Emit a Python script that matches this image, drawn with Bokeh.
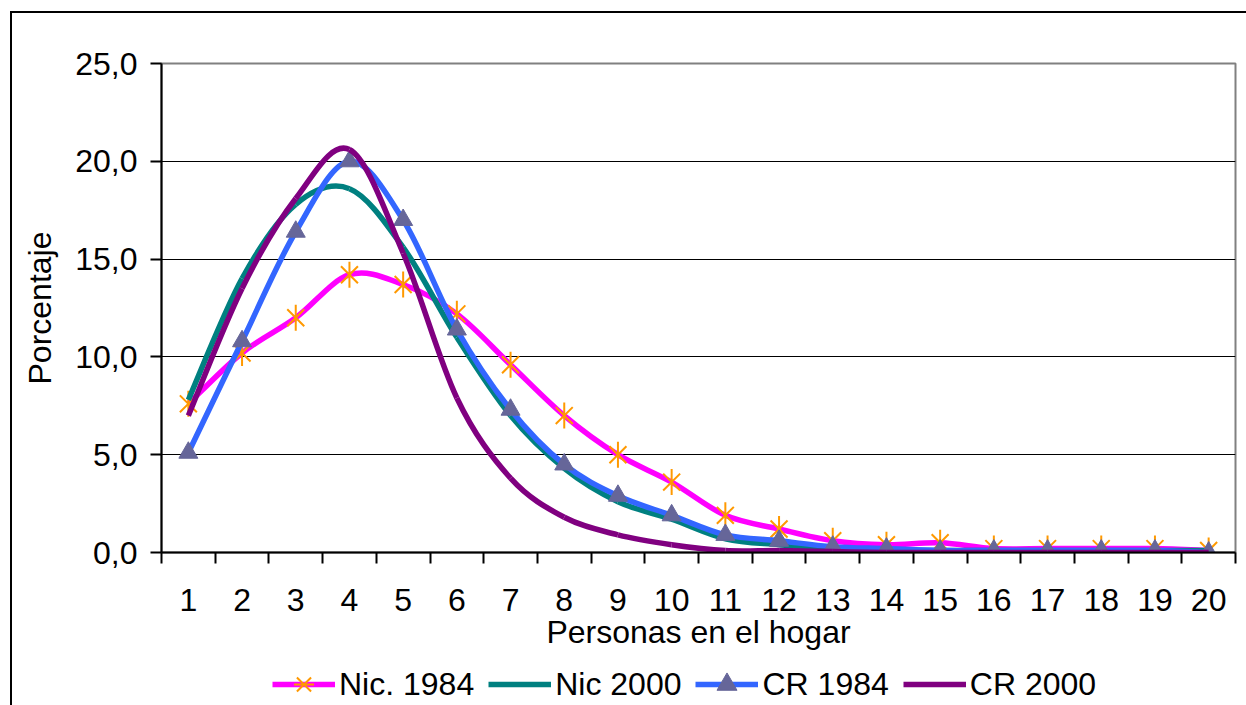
from bokeh.plotting import figure
from bokeh.layouts import column
from bokeh.models import Range1d, FixedTicker, Legend, LegendItem
from bokeh.embed import file_html
from bokeh.resources import INLINE

# ---------------- data ----------------
hogar = list(range(1, 21))
x_labels = [str(i) for i in hogar]
y_ticks = [0, 5, 10, 15, 20, 25]
y_labels = ["0,0", "5,0", "10,0", "15,0", "20,0", "25,0"]

nic_1984 = [7.6, 10.2, 12.0, 14.2, 13.7, 12.2, 9.6, 7.0, 5.0, 3.6,
            1.9, 1.2, 0.6, 0.4, 0.5, 0.2, 0.2, 0.2, 0.2, 0.1]
nic_2000 = [7.8, 14.0, 17.8, 18.6, 15.6, 11.0, 7.0, 4.3, 2.6, 1.7,
            0.7, 0.4, 0.2, 0.1, 0.1, 0.1, 0.1, 0.1, 0.1, 0.1]
cr_1984 = [5.1, 10.8, 16.4, 20.0, 17.0, 11.4, 7.3, 4.5, 2.9, 1.9,
           0.9, 0.6, 0.3, 0.2, 0.1, 0.1, 0.1, 0.1, 0.1, 0.0]
cr_2000 = [7.0, 13.5, 18.1, 20.6, 15.3, 7.9, 3.8, 1.8, 0.9, 0.4,
           0.1, 0.1, 0.05, 0.0, 0.0, 0.0, 0.0, 0.0, 0.0, 0.0]

series_names = ["Nic. 1984", "Nic 2000", "CR 1984", "CR 2000"]
series_values = [nic_1984, nic_2000, cr_1984, cr_2000]

FONT = "Liberation Sans"
line_colors = ["#FF00FF", "#008080", "#3366FF", "#800080"]
STAR_COLOR = "#FF9900"
TRI_COLOR = "#666699"
LW = 5.5


def smooth_segments(xs, ys):
    """Bezier control points (Catmull-Rom style) for a smoothed line."""
    n = len(xs)
    d = dict(x0=[], y0=[], x1=[], y1=[], cx0=[], cy0=[], cx1=[], cy1=[])
    for i in range(n - 1):
        xp, yp = (xs[i - 1], ys[i - 1]) if i > 0 else (xs[i], ys[i])
        xn, yn = (xs[i + 2], ys[i + 2]) if i + 2 < n else (xs[i + 1], ys[i + 1])
        d["x0"].append(xs[i]); d["y0"].append(ys[i])
        d["x1"].append(xs[i + 1]); d["y1"].append(ys[i + 1])
        d["cx0"].append(xs[i] + (xs[i + 1] - xp) / 6.0)
        d["cy0"].append(ys[i] + (ys[i + 1] - yp) / 6.0)
        d["cx1"].append(xs[i + 1] - (xn - xs[i]) / 6.0)
        d["cy1"].append(ys[i + 1] - (yn - ys[i]) / 6.0)
    return d


def add_markers(fig, name, xs, ys):
    out = []
    if name == "Nic. 1984":
        out.append(fig.scatter(xs, ys, marker="x", size=24, line_color=STAR_COLOR, line_width=2))
        out.append(fig.scatter(xs, ys, marker="dash", angle=1.5708, size=26,
                               line_color=STAR_COLOR, line_width=2))
    elif name == "CR 1984":
        out.append(fig.scatter(xs, ys, marker="triangle", size=19, fill_color=TRI_COLOR,
                               line_color=TRI_COLOR, line_width=1))
    return out


# ---------------- main chart ----------------
p = figure(width=1234, height=642,
           x_range=Range1d(0.5, 20.5), y_range=Range1d(0, 25),
           output_backend="svg", toolbar_location=None,
           min_border_left=149, min_border_right=11,
           min_border_top=50, min_border_bottom=103)

p.outline_line_color = "#808080"
p.outline_line_width = 2
p.background_fill_color = "white"
p.border_fill_color = "white"

# x axis (labels at centres, tick marks between categories)
p.xaxis.ticker = FixedTicker(ticks=hogar, minor_ticks=[i + 0.5 for i in range(0, 21)])
p.xaxis.major_label_overrides = {h: lab for h, lab in zip(hogar, x_labels)}
p.xaxis.major_tick_out = 0
p.xaxis.major_tick_in = 0
p.xaxis.minor_tick_out = 11
p.xaxis.minor_tick_in = 0
p.xaxis.minor_tick_line_color = "black"
p.xaxis.minor_tick_line_width = 2
p.xaxis.major_label_standoff = 25
p.xaxis.axis_label = "Personas en el hogar"
p.xaxis.axis_label_standoff = 0

# y axis
p.yaxis.ticker = FixedTicker(ticks=y_ticks, minor_ticks=[])
p.yaxis.major_label_overrides = {t: lab for t, lab in zip(y_ticks, y_labels)}
p.yaxis.major_tick_out = 11
p.yaxis.major_tick_in = 0
p.yaxis.major_label_standoff = 13
p.yaxis.axis_label = "Porcentaje"
p.yaxis.axis_label_standoff = 14

for ax in (p.xaxis[0], p.yaxis[0]):
    ax.axis_line_color = "black"
    ax.axis_line_width = 2
    ax.major_tick_line_color = "black"
    ax.major_tick_line_width = 2
    ax.major_label_text_font = FONT
    ax.major_label_text_font_size = "32px"
    ax.major_label_text_color = "black"
    ax.axis_label_text_font = FONT
    ax.axis_label_text_font_size = "32px"
    ax.axis_label_text_font_style = "normal"
    ax.axis_label_text_color = "black"

p.xgrid.visible = False
p.ygrid.ticker = FixedTicker(ticks=[5, 10, 15, 20])
p.ygrid.grid_line_color = "black"
p.ygrid.grid_line_width = 1

for name, vals, col in zip(series_names, series_values, line_colors):
    seg = smooth_segments(hogar, vals)
    p.bezier(x0="x0", y0="y0", x1="x1", y1="y1", cx0="cx0", cy0="cy0",
             cx1="cx1", cy1="cy1", source=seg, line_color=col, line_width=LW)
    add_markers(p, name, hogar, vals)

# ---------------- legend strip ----------------
# same series, but the y range lies above all values so only the legend shows
lg = figure(width=1234, height=50, x_range=Range1d(0.5, 20.5), y_range=Range1d(100, 101),
            x_axis_type=None, y_axis_type=None, output_backend="svg",
            toolbar_location=None, min_border=0)
lg.outline_line_color = None
lg.xgrid.visible = False
lg.ygrid.visible = False

items = []
for name, vals, col in zip(series_names, series_values, line_colors):
    rends = [lg.line(hogar, vals, line_color=col, line_width=LW)]
    rends += add_markers(lg, name, hogar, vals)
    items.append(LegendItem(label=name, renderers=rends))

legend = Legend(items=items, location=(111, -4), orientation="horizontal")
legend.glyph_width = 63
legend.glyph_height = 50
legend.label_standoff = 4
legend.spacing = 14
legend.padding = 0
legend.margin = 0
legend.border_line_alpha = 0
legend.background_fill_alpha = 0
legend.label_text_font = FONT
legend.label_text_font_size = "32px"
legend.label_text_color = "black"
lg.add_layout(legend)

layout = column(p, lg, spacing=0)
layout.styles = {"margin-left": "10px", "margin-top": "11px",
                 "border-left": "2px solid black", "border-top": "2px solid black"}

open("out.html", "w").write(file_html(layout, INLINE))
